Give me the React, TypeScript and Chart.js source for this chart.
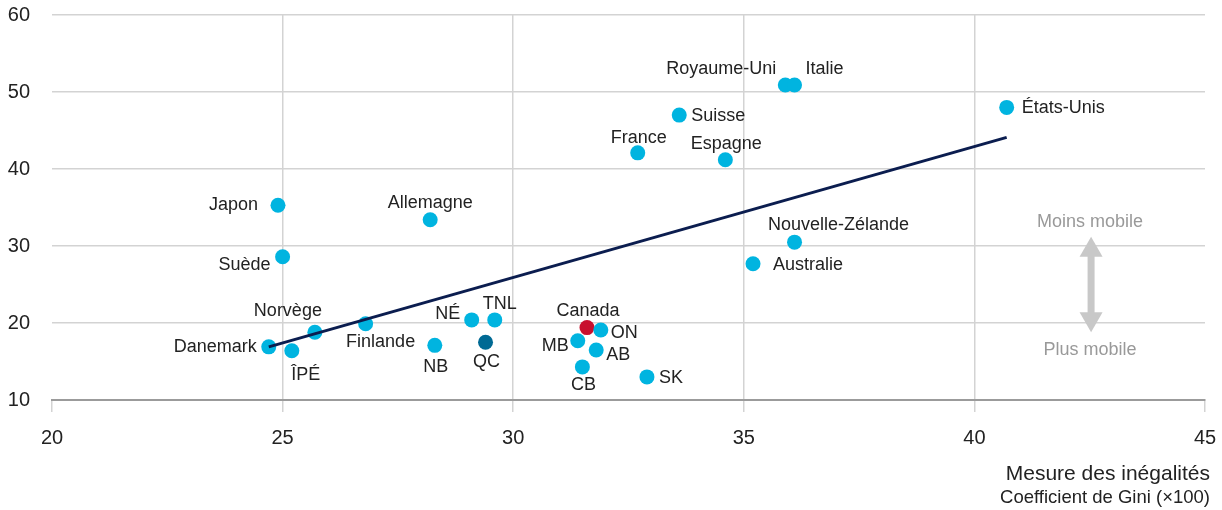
import React, { useEffect, useRef } from "react";
import { Chart, registerables } from "chart.js";
Chart.register(...registerables);

// ---- Data ----
const countries = [
  "Danemark", "ÎPÉ", "Norvège", "Finlande", "Japon", "Suède", "Allemagne", "NB",
  "NÉ", "TNL", "QC", "Canada", "ON", "MB", "AB", "CB", "SK", "France", "Suisse",
  "Espagne", "Royaume-Uni", "Italie", "États-Unis", "Nouvelle-Zélande", "Australie",
];
const gini = [
  24.7, 25.2, 25.7, 26.8, 24.9, 25.0, 28.2, 28.3,
  29.1, 29.6, 29.4, 31.6, 31.9, 31.4, 31.8, 31.5, 32.9, 32.7, 33.6,
  34.6, 35.9, 36.1, 40.7, 36.1, 35.2,
];
const mobility = [
  16.9, 16.4, 18.8, 19.9, 35.3, 28.6, 33.4, 17.1,
  20.4, 20.4, 17.5, 19.4, 19.1, 17.7, 16.5, 14.3, 13.0, 42.1, 47.0,
  41.2, 50.9, 50.9, 48.0, 30.5, 27.7,
];
const trendX = [24.7, 40.7];
const trendY = [16.9, 44.1];
const xTickValues = [20, 25, 30, 35, 40, 45];
const yTickValues = [10, 20, 30, 40, 50, 60];
const axisTitle = "Mesure des inégalités";
const axisSubtitle = "Coefficient de Gini (×100)";
const lessMobile = "Moins mobile";
const moreMobile = "Plus mobile";

// ---- Label placement (styling) ----
const labelAlign: CanvasTextAlign[] = [
  "right", "center", "center", "center", "right", "right", "center", "center",
  "center", "center", "center", "center", "left", "right", "left", "center", "left", "center", "left",
  "center", "center", "left", "left", "center", "left",
];
const labelDx = [
  -12, 14, -27, 15, -20, -12, 0, 1,
  -24, 5, 1, 1, 10, -9, 10, 1, 12, 1, 12,
  1, -64, 11, 15, 44, 20,
];
const labelDy = [
  0, 24, -21, 18, 0, 8, -17, 22,
  -6, -16, 20, -17, 3, 5, 5, 18, 1, -15, 1,
  -16, -16, -16, 1, -17, 1,
];

const BASE = "#00b4e0";
const pointColors = countries.map((c) =>
  c === "Canada" ? "#c8102e" : c === "QC" ? "#006a94" : BASE
);

const FONT = "'Liberation Sans', Arial, Helvetica, sans-serif";

export default function App() {
  const ref = useRef<HTMLCanvasElement | null>(null);
  useEffect(() => {
    if (!ref.current) return;
    const labelPlugin = {
      id: "labels",
      afterDatasetsDraw(chart: any) {
        const ctx = chart.ctx;
        const meta = chart.getDatasetMeta(1);
        ctx.save();
        ctx.font = `18px ${FONT}`;
        ctx.fillStyle = "#222";
        ctx.textBaseline = "middle";
        meta.data.forEach((pt: any, i: number) => {
          ctx.textAlign = labelAlign[i];
          ctx.fillText(countries[i], pt.x + labelDx[i], pt.y + labelDy[i]);
        });
        // annotation arrow
        const xs = chart.scales.x;
        const ys = chart.scales.y;
        const ax = xs.getPixelForValue(42.53);
        const top = ys.getPixelForValue(31.2);
        const bot = ys.getPixelForValue(18.8);
        const headL = 20;
        const headW = 11.5;
        ctx.fillStyle = "#c8c8c8";
        ctx.fillRect(ax - 3.5, top + headL - 1, 7, bot - top - 2 * headL + 2);
        ctx.beginPath();
        ctx.moveTo(ax, top);
        ctx.lineTo(ax + headW, top + headL);
        ctx.lineTo(ax - headW, top + headL);
        ctx.closePath();
        ctx.fill();
        ctx.beginPath();
        ctx.moveTo(ax, bot);
        ctx.lineTo(ax + headW, bot - headL);
        ctx.lineTo(ax - headW, bot - headL);
        ctx.closePath();
        ctx.fill();
        ctx.fillStyle = "#999";
        ctx.textAlign = "center";
        ctx.font = `18px ${FONT}`;
        ctx.fillText(lessMobile, ax - 1, ys.getPixelForValue(33.1));
        ctx.fillText(moreMobile, ax - 1, ys.getPixelForValue(16.5));
        // axis title
        ctx.fillStyle = "#222";
        ctx.textAlign = "right";
        ctx.font = `21px ${FONT}`;
        ctx.fillText(axisTitle, 1210, 474);
        ctx.font = `18.5px ${FONT}`;
        ctx.fillText(axisSubtitle, 1210, 498);
        ctx.restore();
      },
    };

    const chart = new Chart(ref.current, {
      type: "scatter",
      data: {
        datasets: [
          {
            type: "line",
            data: trendX.map((x, i) => ({ x, y: trendY[i] })),
            borderColor: "#0b1d4f",
            borderWidth: 3,
            pointRadius: 0,
            fill: false,
            order: 0,
          } as any,
          {
            data: gini.map((x, i) => ({ x, y: mobility[i] })),
            backgroundColor: pointColors,
            borderWidth: 0,
            pointRadius: 7.5,
            order: 1,
          },
        ],
      },
      plugins: [labelPlugin],
      options: {
        animation: false,
        responsive: false,
        layout: { padding: { top: 15, right: 17, left: 0, bottom: 0 } },
        plugins: { legend: { display: false }, tooltip: { enabled: false } },
        scales: {
          x: {
            type: "linear",
            min: 20,
            max: 45,
            afterBuildTicks: (s: any) => {
              s.ticks = xTickValues.map((v) => ({ value: v }));
            },
            afterFit: (s: any) => {
              s.height = 110;
              s.paddingLeft = 0;
              s.paddingRight = 0;
              s.paddingTop = 0;
              s.paddingBottom = 0;
            },
            grid: {
              color: (c: any) =>
                c.tick && (c.tick.value === 20 || c.tick.value === 45)
                  ? "rgba(0,0,0,0)"
                  : "#d3d3d3",
              tickColor: "#d3d3d3",
              tickLength: 12,
              lineWidth: 1.5,
            },
            border: { color: "#9b9b9b", width: 2 },
            ticks: {
              color: "#222",
              font: { family: FONT, size: 20 },
              padding: 14,
              maxRotation: 0,
            },
          },
          y: {
            type: "linear",
            min: 10,
            max: 60,
            afterBuildTicks: (s: any) => {
              s.ticks = yTickValues.map((v) => ({ value: v }));
            },
            afterFit: (s: any) => {
              s.width = 52;
              s.paddingLeft = 0;
              s.paddingRight = 0;
              s.paddingTop = 0;
              s.paddingBottom = 0;
            },
            grid: { color: "#d3d3d3", drawTicks: false, lineWidth: 1.5 },
            border: { display: false },
            ticks: {
              color: "#222",
              font: { family: FONT, size: 20 },
              padding: 22,
            },
          },
        },
      },
    });
    return () => chart.destroy();
  }, []);
  return (
    <canvas
      ref={ref}
      width={1222}
      height={510}
      style={{ position: "absolute", left: 0, top: 0, width: 1222, height: 510 }}
    />
  );
}
